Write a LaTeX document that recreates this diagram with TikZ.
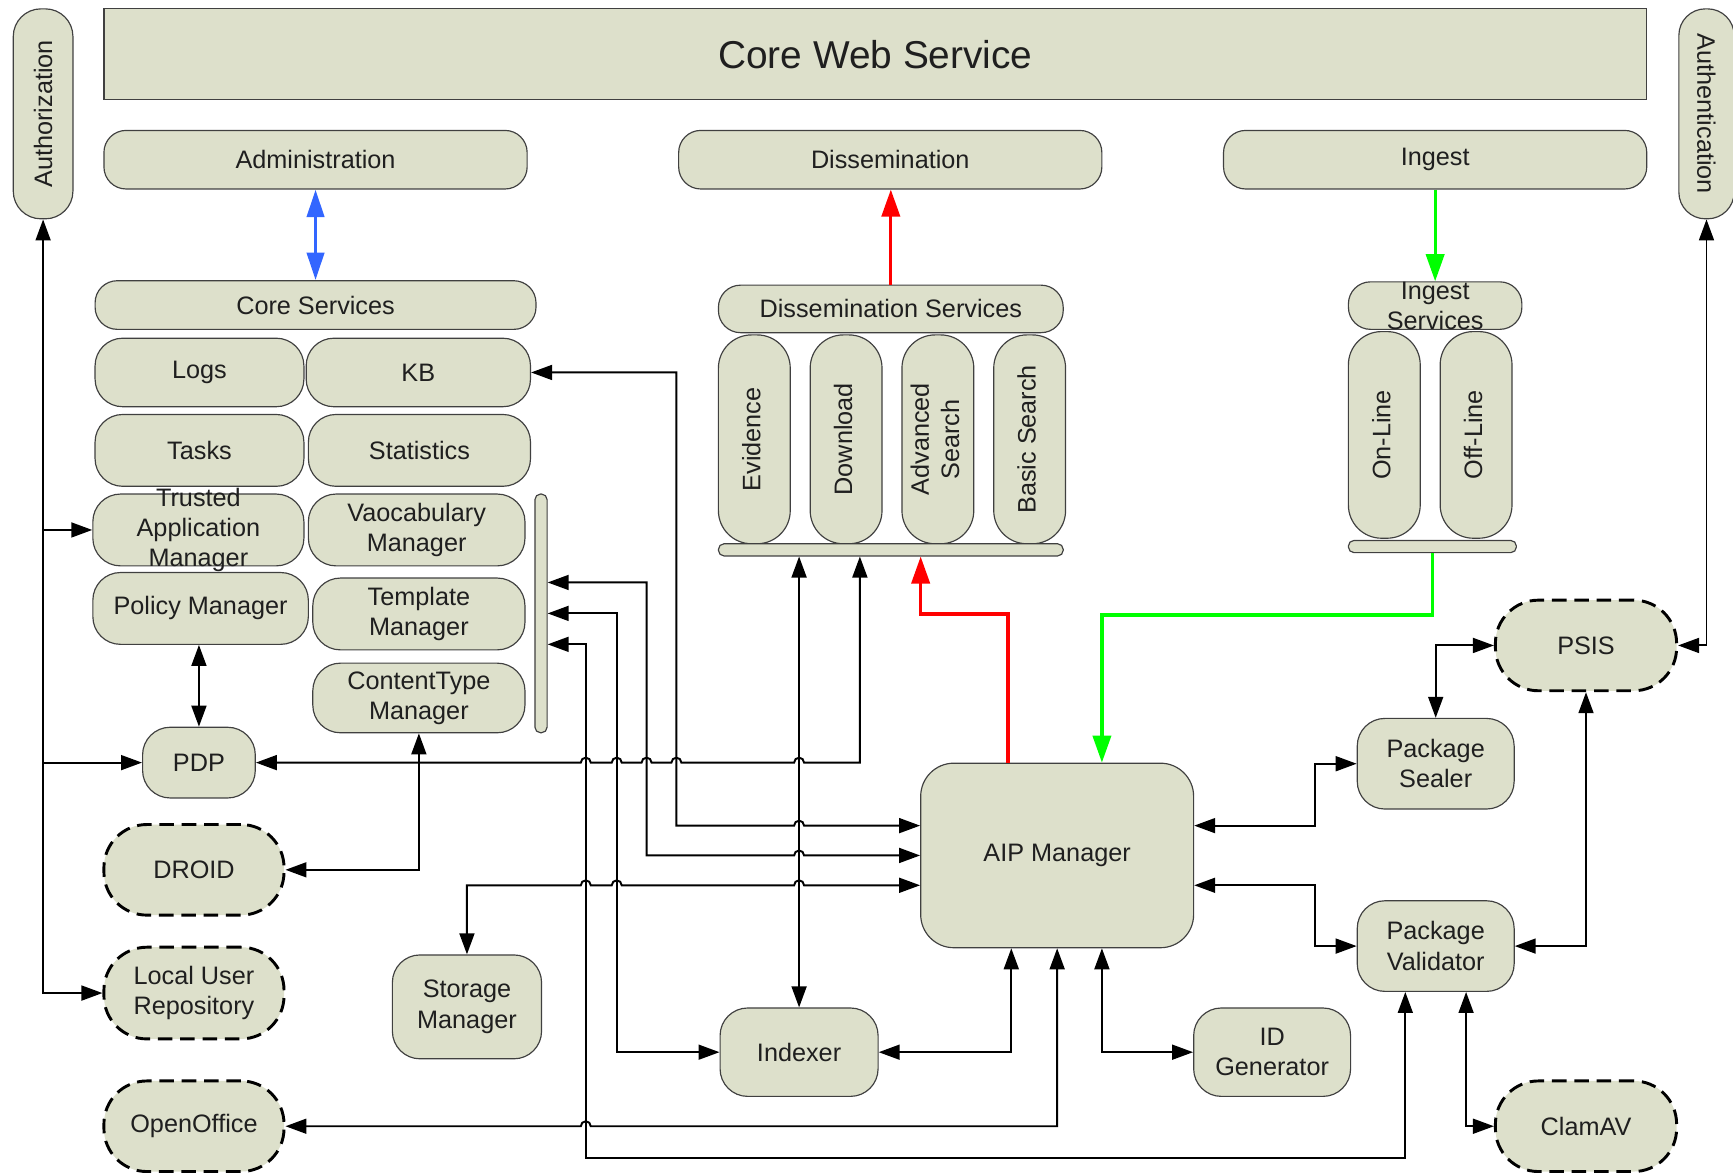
\documentclass[tikz,border=0pt]{standalone}
\usepackage{fontspec}
\setmainfont{Liberation Sans}
\usepackage{graphicx}
\usetikzlibrary{positioning, arrows.meta}
\definecolor{boxfill}{RGB}{221,224,203}
\definecolor{adminblue}{RGB}{51,102,255}
\definecolor{ingestgreen}{RGB}{0,255,0}
\newcommand{\bodyfont}{\fontsize{13}{15.6}\selectfont}
\newcommand{\vlabel}[1]{\rotatebox{90}{\begin{tabular}{@{}c@{}}#1\end{tabular}}}
\newcommand{\hop}[2]{-- ({#1-4.5},#2) arc[start angle=180, end angle=0, radius=0.09cm]}
\tikzset{
  box/.style={draw=black!75, fill=boxfill, line width=0.6pt, rounded corners=#1,
    align=center, inner sep=1pt, font=\bodyfont, text=black!88},
  box/.default=0.5cm,
  ext/.style={box=0.78cm, draw=black, line width=1.5pt, dash pattern=on 7.5pt off 4pt},
  col/.style={box=0.6cm, minimum width=1.3cm},
  link/.style={line width=1pt},
  redlink/.style={line width=1.7pt, draw=red, >={Triangle[length=4.9mm,width=3.3mm]}},
  greenlink/.style={line width=1.7pt, draw=ingestgreen, >={Triangle[length=4.9mm,width=3.3mm]}},
  bluelink/.style={line width=2pt, draw=adminblue, >={Triangle[length=5mm,width=3.1mm]}},
  hv/.style={to path={-| (\tikztotarget)}},
  vh/.style={to path={|- (\tikztotarget)}},
}
\begin{document}
\begin{tikzpicture}[x=0.02cm, y=-0.02cm, >={Triangle[length=3.8mm,width=2.7mm]}]
        \useasboundingbox (0,0) rectangle (1568,1061);

        \node[box=0.5cm, minimum width=1.08cm, minimum height=3.8cm] (auth) at (39,103) {\rotatebox{90}{Authorization}};
        \node[box=0pt, minimum width=27.92cm, minimum height=1.64cm, font=\fontsize{20}{24}\selectfont] (cws) at (792,49) {Core Web Service};
        \node[box=0.48cm, minimum width=1cm, minimum height=3.8cm] (authn) at (1544,103) {\rotatebox{-90}{Authentication}};

        \node[box=0.4cm, minimum width=7.66cm, minimum height=1.06cm] (adm) at (285.5,144.5) {Administration};
        \node[box=0.4cm, minimum width=7.66cm, minimum height=1.06cm] (dis) at (805.5,144.5) {Dissemination};
        \node[box=0.4cm, minimum width=7.66cm, minimum height=1.06cm] (ing) at (1298.5,144.5) {Ingest};

        \node[box=0.4cm, minimum width=7.98cm, minimum height=0.88cm] (cs) at (285.5,276) {Core Services};
        \node[box, minimum width=3.78cm, minimum height=1.24cm] (logs) at (180.5,337) {Logs};
        \node[box, minimum width=4.06cm, minimum height=1.24cm] (kb) at (378.5,337) {KB};
        \node[box, minimum width=3.78cm, minimum height=1.3cm] (tasks) at (180.5,407.5) {Tasks};
        \node[box, minimum width=4.02cm, minimum height=1.3cm] (stats) at (379.5,407.5) {Statistics};
        \node[box, minimum width=3.82cm, minimum height=1.3cm,
          label={[font=\bodyfont, align=center, text=black!88]center:Trusted\\Application\\Manager}] (tam) at (179.5,479.5) {};
        \node[box, minimum width=3.92cm, minimum height=1.3cm] (voc) at (377,479.5) {Vaocabulary\\Manager};
        \node[box, minimum width=3.9cm, minimum height=1.3cm] (pol) at (181.5,550.5) {Policy Manager};
        \node[box, minimum width=3.84cm, minimum height=1.3cm] (tmpl) at (379,555.5) {Template\\Manager};
        \node[box, minimum width=3.84cm, minimum height=1.26cm] (ctm) at (379,631.5) {ContentType\\Manager};
        \node[box=0.1cm, minimum width=0.22cm, minimum height=4.32cm, inner sep=0pt] (cbar) at (489.5,555) {};

        \node[box, minimum width=2.04cm, minimum height=1.28cm] (pdp) at (180,690) {PDP};
        \node[ext, minimum width=3.26cm, minimum height=1.64cm] (droid) at (175.5,787) {DROID};
        \node[ext, minimum width=3.26cm, minimum height=1.66cm] (lur) at (175.5,898.5) {Local User\\Repository};
        \node[ext, minimum width=3.26cm, minimum height=1.64cm] (oo) at (175.5,1019) {OpenOffice};
        \node[box, minimum width=2.7cm, minimum height=1.88cm] (stor) at (422.5,911) {Storage\\Manager};

        \node[box=0.4cm, minimum width=6.24cm, minimum height=0.86cm] (dsrv) at (806,279.5) {Dissemination Services};
        \node[col, minimum height=3.78cm] (ev) at (682.5,397.5) {\vlabel{Evidence}};
        \node[col, minimum height=3.78cm] (dl) [right=0.34cm of ev] {\vlabel{Download}};
        \node[col, minimum height=3.78cm] (adv) [right=0.34cm of dl] {\vlabel{Advanced\\Search}};
        \node[col, minimum height=3.78cm] (bas) [right=0.34cm of adv] {\vlabel{Basic Search}};
        \node[box=0.1cm, minimum width=6.24cm, minimum height=0.22cm, inner sep=0pt] (dbar) at (806,497.5) {};

        \node[box=0.4cm, minimum width=3.14cm, minimum height=0.86cm,
          label={[font=\bodyfont, align=center, text=black!88]center:Ingest\\Services}] (isrv) at (1298.5,276.5) {};
        \node[col, minimum height=3.74cm] (on) at (1252.5,393.5) {\vlabel{On-Line}};
        \node[col, minimum height=3.74cm] (off) [right=0.34cm of on] {\vlabel{Off-Line}};
        \node[box=0.1cm, minimum width=3.04cm, minimum height=0.22cm, inner sep=0pt] (ibar) at (1296,494.5) {};

        \node[box=0.6cm, minimum width=4.94cm, minimum height=3.34cm] (aip) at (956.5,774) {AIP Manager};
        \node[box, minimum width=2.84cm, minimum height=1.64cm] (seal) at (1299,691) {Package\\Sealer};
        \node[box, minimum width=2.84cm, minimum height=1.64cm] (val) at (1299,856) {Package\\Validator};
        \node[ext, minimum width=3.28cm, minimum height=1.64cm] (psis) at (1435,584) {PSIS};
        \node[box, minimum width=2.84cm, minimum height=1.6cm] (idg) at (1151,952) {ID\\Generator};
        \node[box, minimum width=2.86cm, minimum height=1.6cm] (idx) at (723,952) {Indexer};
        \node[ext, minimum width=3.28cm, minimum height=1.64cm] (clam) at (1435,1019) {ClamAV};

        \path[<->, link]
        (auth.south) edge [vh] (lur.west)
        (pdp.north |- pol.south) edge (pdp.north)
        (ctm.south) edge [vh] (droid.east)
        (dbar.south -| idx.north) edge (idx.north)
        (idx.east) edge [hv] ([xshift=-0.83cm]aip.south)
        (idg.west) edge [hv] ([xshift=0.81cm]aip.south)
        (psis.west) edge [hv] (seal.north)
        (psis.south) edge [vh] (val.east)
        (authn.south) edge [vh] (psis.east)
        (clam.west) edge [hv] ([xshift=0.55cm]val.south)
        ;
        \path[->, link]
        (auth.south |- tam.west) edge (tam.west)
        (auth.south |- pdp.west) edge (pdp.west)
        ;

        \draw[<->, link] (pdp.east) \hop{530}{690} \hop{558}{690} \hop{585}{690} \hop{612}{690} \hop{723}{690} -| ([xshift=-0.56cm]dbar.south);
        \draw[<->, link] (kb.east) -| (612,747) \hop{723}{747} -- ([yshift=0.54cm]aip.west);
        \draw[<->, link] ([yshift=0.56cm]cbar.east) -| (585,774) \hop{723}{774} -- (aip.west);
        \draw[<->, link] (cbar.east) -| (558,952) -- (idx.west);
        \draw[<->, link] ([yshift=-0.56cm]cbar.east) -| (530,1048) -| ([xshift=-0.55cm]val.south);
        \draw[<->, link] (stor.north) -- (422.5,801) \hop{530}{801} \hop{558}{801} \hop{723}{801} -- ([yshift=-0.54cm]aip.west);
        \draw[<->, link] (oo.east) \hop{530}{1019} -| (aip.south);
        \draw[<->, link] ([yshift=0.54cm]aip.east) -| (1190,691) -- (seal.west);
        \draw[<->, link] ([yshift=-0.54cm]aip.east) -| (1190,856) -- (val.west);

        \draw[<->, bluelink] (adm.south) -- (cs.north);
        \draw[->, redlink] (dsrv.north) -- (dsrv.north |- dis.south);
        \draw[->, redlink] ([xshift=-0.89cm]aip.north) -- ++(0,-134.5) -| ([xshift=0.54cm]dbar.south);
        \draw[->, greenlink] (ing.south) -- (isrv.north);
        \draw[->, greenlink] (ibar.south) -- ++(0,56) -| ([xshift=0.81cm]aip.north);
    \end{tikzpicture}
\end{document}
